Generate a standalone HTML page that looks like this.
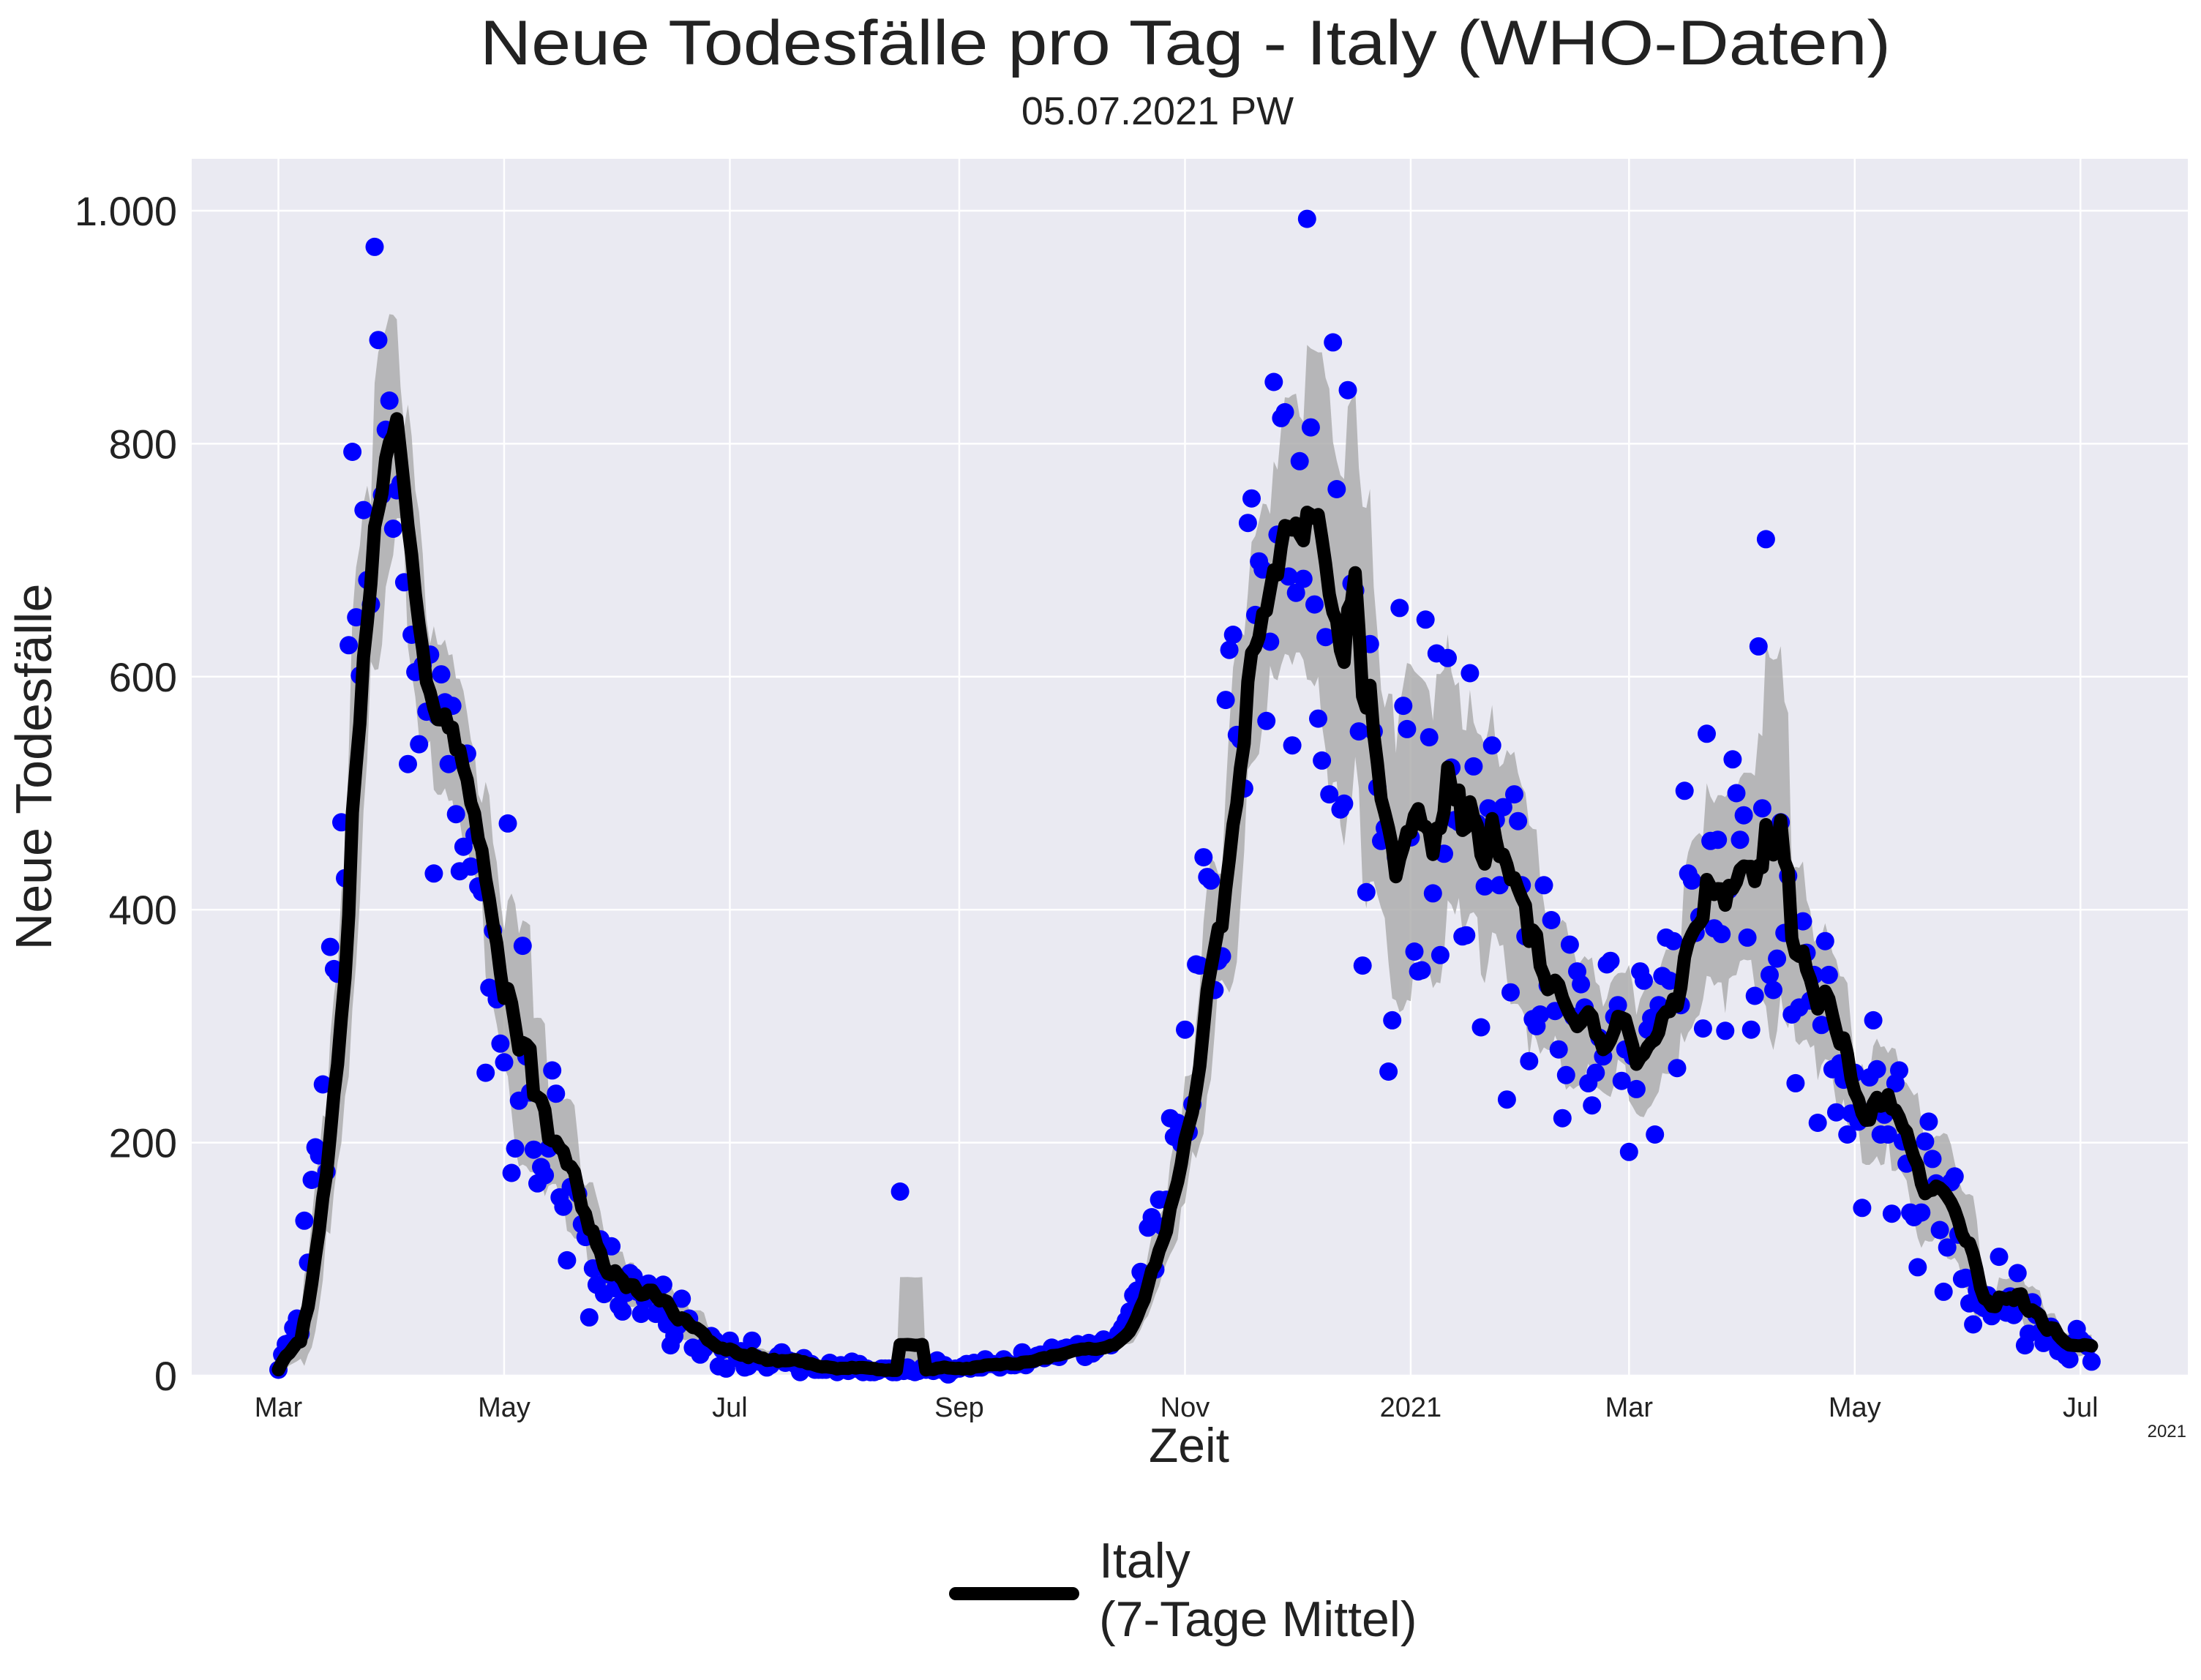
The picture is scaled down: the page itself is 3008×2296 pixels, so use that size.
<!DOCTYPE html>
<html><head><meta charset="utf-8">
<style>
html,body{margin:0;padding:0;background:#fff;}
svg{display:block;font-family:"Liberation Sans",Arial,sans-serif;}
</style></head>
<body>
<svg id="chart" width="3008" height="2296" viewBox="0 0 3008 2296" xmlns="http://www.w3.org/2000/svg">
<rect x="262" y="217" width="2728" height="1663" fill="#eaeaf2"/>
<g id="grid"></g>
<g id="band"></g>
<g id="dots"></g>
<g id="line"></g>
<g id="yticks"></g>
<g id="xticks"></g>
<text x="1620" y="88" font-size="86" fill="#222" text-anchor="middle" textLength="1928" lengthAdjust="spacingAndGlyphs">Neue Todesfälle pro Tag - Italy (WHO-Daten)</text>
<text x="1582" y="170" font-size="54" fill="#222" text-anchor="middle">05.07.2021 PW</text>
<text x="1625" y="1998" font-size="66" fill="#222" text-anchor="middle">Zeit</text>
<text transform="translate(70,1048) rotate(-90)" font-size="70" fill="#222" text-anchor="middle">Neue Todesfälle</text>
<text x="2988" y="1964" font-size="24" fill="#222" text-anchor="end">2021</text>
<g>
<line x1="1306" y1="2178" x2="1466" y2="2178" stroke="#000" stroke-width="18" stroke-linecap="round"/>
<text x="1502" y="2156" font-size="68" fill="#222">Italy</text>
<text x="1502" y="2236" font-size="68" fill="#222">(7-Tage Mittel)</text>
</g>
</svg>
<script>
// daily deaths starting 2020-03-01
const startDate = "2020-03-01";
const deaths2020a = [5,18,27,28,41,49,36,133,97,168,196,189,250,175,368,349,345,475,427,627,793,651,601,743,683,662,969,889,756,812,837,
727,760,766,681,525,636,604,542,610,570,619,431,566,602,578,525,575,482,433,454,534,437,464,420,415,260,333,382,323,285,
269,474,174,195,236,369,274,243,194,165,179,172,195,262,242,153,145,99,162,161,156,130,119,50,92,78,117,70,87,111,75,
60,55,71,88,85,72,53,65,79,71,53,56,78,44,26,34,43,66,47,49,24,23,18,23,30,34,30,8,22,6];
const deaths2020b = [30,21,15,21,7,8,30,15,12,12,7,9,13,17,20,11,13,12,9,3,15,9,10,5,5,5,5,11,6,3,9,
5,4,12,6,10,3,6,3,3,4,6,6,6,3,3,158,4,7,4,3,4,7,5,9,4,13,5,9,1,4,6,
6,8,10,6,11,7,7,14,10,10,9,7,14,11,9,9,10,20,9,15,14,17,18,15,17,24,17,16,23,24,
23,24,27,22,16,28,19,22,28,31,29,26,30,36,41,47,55,69,73,89,83,127,136,91,151,128,151,221,205,217,199];
const deaths2020c = [297,209,233,353,352,445,428,425,331,356,360,580,623,636,550,546,504,732,753,653,699,692,562,630,853,722,822,827,686,541,672,785,
684,993,814,662,564,528,634,499,887,761,486,491,846,680,674,553,352,415,628,553,505,459,470,261,305,445,659];
const deaths2021a = [575,555,462,364,347,348,649,548,414,620,361,448,616,522,477,475,377,378,603,523,
474,299,420,487,541,477,421,488,237,329,499,476,421,377,270,306,300,310,421,335,391,313,280,
221,258,370,308,347,336,316,251,232,260,290,274,353,356,308,318,253,280];
const deaths2021b = [192,274,246,347,339,297,307,207,318,343,376,339,373,264,318,502,431,425,380,394,298,551,459,384,460,379,296,417,529,500,460,481,376,297,326,626,487,718,
344,331,358,475,380,429,310,251,316,390,363,322,344,217,301,373,344,263,226,268,254,207,225,260,218,144];
const deaths2021c = [226,256,305,263,207,224,207,139,251,262,201,182,140,136,93,140,201,218,186,165,125,72,110,166,171,121,83,84,62,44,
73,60,58,69,51,59,102,65,54,68,52,88,62,26,36,63,52,37,28,30,42,32,21,28,17,14,28,40,31,28,25,12];
const yTickValues = [0,200,400,600,800,1000];
const yTickLabels = ["0","200","400","600","800","1.000"];
const xTickDates = ["2020-03-01","2020-05-01","2020-07-01","2020-09-01","2020-11-01","2021-01-01","2021-03-01","2021-05-01","2021-07-01"];
const xTickLabels = ["Mar","May","Jul","Sep","Nov","2021","Mar","May","Jul"];

const deaths = [].concat(deaths2020a,deaths2020b,deaths2020c,deaths2021a,deaths2021b,deaths2021c);
const NS="http://www.w3.org/2000/svg";
const t0 = Date.parse(startDate+"T00:00:00Z");
function dayOf(s){return (Date.parse(s+"T00:00:00Z")-t0)/86400000;}
const X0=380.5, PXD=5.057;
function xs(d){return X0+d*PXD;}
function ys(v){return 1880 - v*1.592;}
function mk(tag,attrs,parent){const e=document.createElementNS(NS,tag);for(const k in attrs)e.setAttribute(k,attrs[k]);parent.appendChild(e);return e;}

const grid=document.getElementById('grid');
yTickValues.forEach((v,i)=>{
  const l=mk('line',{x1:262,x2:2990,y1:ys(v),y2:ys(v),stroke:'#fff','stroke-width':2.5},grid);
  
  
  const t=mk('text',{x:242,y:ys(v)+20,'font-size':56,fill:'#222','text-anchor':'end'},document.getElementById('yticks'));
  t.textContent=yTickLabels[i];
  
  
});
xTickDates.forEach((d,i)=>{
  const x=xs(dayOf(d));
  const l=mk('line',{x1:x,x2:x,y1:217,y2:1880,stroke:'#fff','stroke-width':2.5},grid);
  
  
  const t=mk('text',{x:x,y:1936,'font-size':38,fill:'#222','text-anchor':'middle'},document.getElementById('xticks'));
  t.textContent=xTickLabels[i];
  
  
});

// rolling 7-day mean and std
const mean=[],sd=[];
for(let i=0;i<deaths.length;i++){
  const w=deaths.slice(Math.max(0,i-6),i+1);
  const m=w.reduce((a,b)=>a+b,0)/w.length;
  mean.push(m);
  let s=0; if(w.length>1){s=Math.sqrt(w.reduce((a,b)=>a+(b-m)*(b-m),0)/(w.length-1));}
  sd.push(s);
}
let up='',lo='';
for(let i=1;i<deaths.length;i++){up+=(up?'L':'M')+xs(i).toFixed(1)+','+ys(mean[i]+sd[i]).toFixed(1);}
for(let i=deaths.length-1;i>=1;i--){lo+='L'+xs(i).toFixed(1)+','+ys(Math.max(0,mean[i]-sd[i])).toFixed(1);}
const band=mk('path',{d:up+lo+'Z',fill:'#a9a9a9','fill-opacity':0.8},document.getElementById('band'));



const dots=document.getElementById('dots');
deaths.forEach((v,i)=>{
  const c=mk('circle',{cx:xs(i).toFixed(1),cy:ys(v).toFixed(1),r:12.5,fill:'#0000ff'},dots);
  
  
});
let d='';
mean.forEach((m,i)=>{d+=(i?'L':'M')+xs(i).toFixed(1)+','+ys(m).toFixed(1);});
const p=mk('path',{d:d,fill:'none',stroke:'#000','stroke-width':18,'stroke-linejoin':'round','stroke-linecap':'round'},document.getElementById('line'));


</script>
</body></html>
